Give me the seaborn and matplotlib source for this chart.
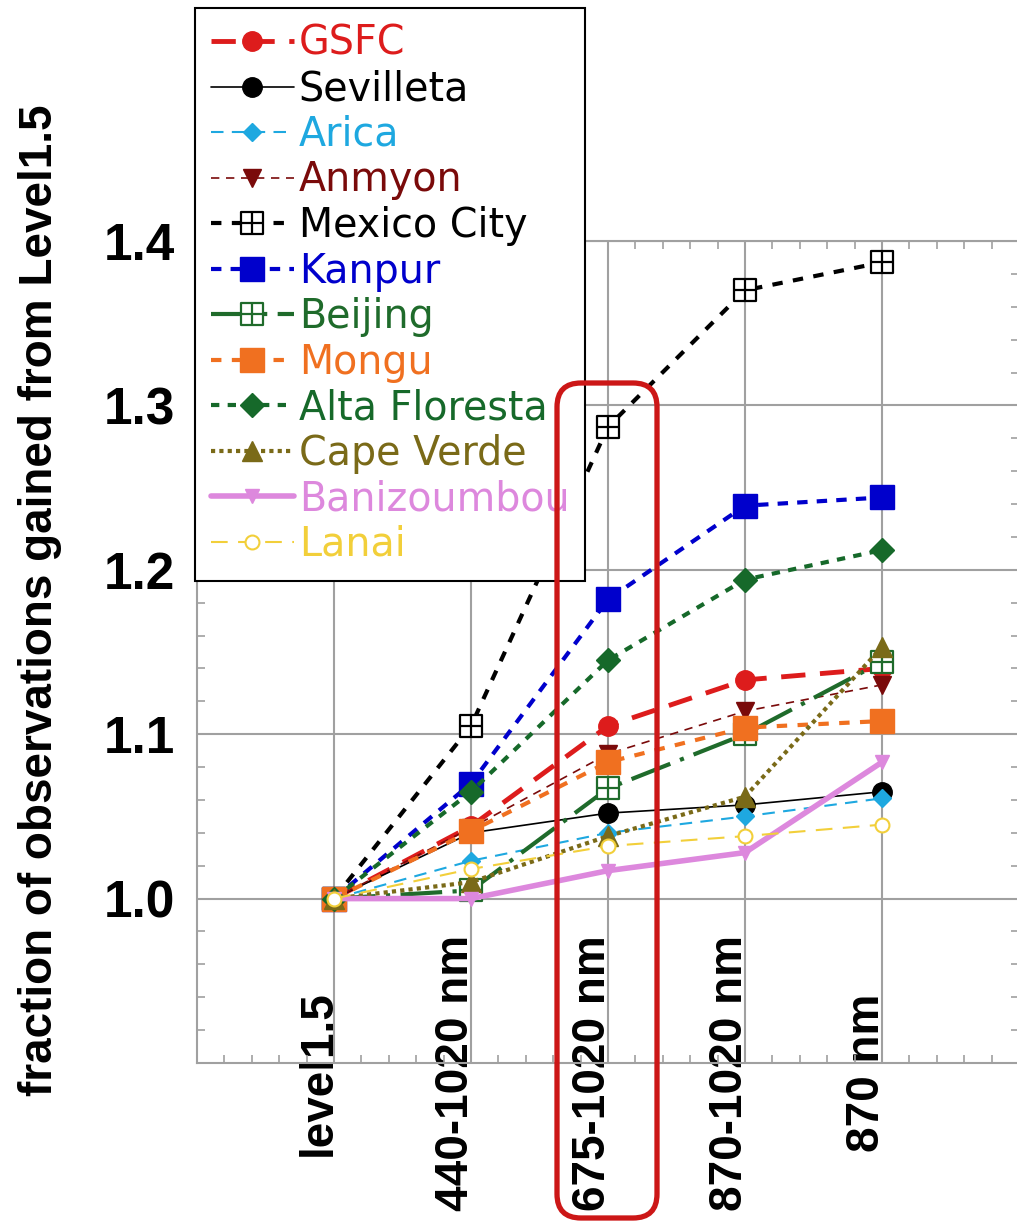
import numpy as np
import pandas as pd
import matplotlib
matplotlib.use("Agg")
import matplotlib.pyplot as plt
import seaborn as sns
from matplotlib.path import Path
from matplotlib.patches import FancyBboxPatch
import matplotlib.transforms as mtransforms
from matplotlib.ticker import MultipleLocator, FixedLocator

# ---------------- data ----------------
categories = ["level1.5", "440-1020 nm", "675-1020 nm", "870-1020 nm", "870 nm"]
site_names = ["GSFC", "Sevilleta", "Arica", "Anmyon", "Mexico City", "Kanpur",
              "Beijing", "Mongu", "Alta Floresta", "Cape Verde", "Banizoumbou", "Lanai"]
gsfc          = [1.0, 1.044, 1.105, 1.133, 1.140]
sevilleta     = [1.0, 1.040, 1.052, 1.057, 1.065]
arica         = [1.0, 1.023, 1.040, 1.050, 1.061]
anmyon        = [1.0, 1.043, 1.088, 1.114, 1.130]
mexico_city   = [1.0, 1.105, 1.287, 1.370, 1.387]
kanpur        = [1.0, 1.070, 1.182, 1.239, 1.244]
beijing       = [1.0, 1.005, 1.067, 1.100, 1.144]
mongu         = [1.0, 1.041, 1.083, 1.104, 1.108]
alta_floresta = [1.0, 1.065, 1.145, 1.194, 1.212]
cape_verde    = [1.0, 1.010, 1.038, 1.062, 1.153]
banizoumbou   = [1.0, 1.000, 1.017, 1.028, 1.083]
lanai         = [1.0, 1.018, 1.032, 1.038, 1.045]
yticks = [1.0, 1.1, 1.2, 1.3, 1.4]
ylabel = "fraction of observations gained from Level1.5"

series = [gsfc, sevilleta, arica, anmyon, mexico_city, kanpur,
          beijing, mongu, alta_floresta, cape_verde, banizoumbou, lanai]
frames = []
for nm, vals in zip(site_names, series):
    frames.append(pd.DataFrame({"site": nm, "pos": np.arange(len(categories)), "value": vals}))
df = pd.concat(frames, ignore_index=True)

# ---------------- styles ----------------
sq_plus = Path([(-1, -1), (1, -1), (1, 1), (-1, 1), (-1, -1),
                (-1, 0), (1, 0), (0, -1), (0, 1)],
               [Path.MOVETO, Path.LINETO, Path.LINETO, Path.LINETO, Path.CLOSEPOLY,
                Path.MOVETO, Path.LINETO, Path.MOVETO, Path.LINETO])

styles = {
    "GSFC":          dict(color="#dd1c1c", lw=3.5, ls=(0, (5, 3)),   marker="o", ms=14, mfc="#dd1c1c", mew=1),
    "Sevilleta":     dict(color="#000000", lw=1.2, ls="-",           marker="o", ms=14, mfc="#000000", mew=1),
    "Arica":         dict(color="#1ea8e0", lw=1.5, ls=(0, (6, 4)),   marker="D", ms=9,  mfc="#1ea8e0", mew=1),
    "Anmyon":        dict(color="#7a0a0a", lw=1.2, ls=(0, (5, 4)),   marker="v", ms=13, mfc="#7a0a0a", mew=1),
    "Mexico City":   dict(color="#000000", lw=3.0, ls=(0, (2.5, 2.5)), marker=sq_plus, ms=16, mfc="white", mew=1.6),
    "Kanpur":        dict(color="#0000cc", lw=3.0, ls=(0, (2.5, 2.2)), marker="s", ms=17, mfc="#0000cc", mew=1),
    "Beijing":       dict(color="#1f6b2b", lw=3.0, ls=(0, (10, 2.5, 1, 2.5)), marker=sq_plus, ms=16, mfc="white", mew=1.6),
    "Mongu":         dict(color="#f07020", lw=3.0, ls=(0, (2.5, 2.5)), marker="s", ms=17, mfc="#f07020", mew=1),
    "Alta Floresta": dict(color="#16692a", lw=3.0, ls=(0, (2, 2)),   marker="D", ms=12, mfc="#16692a", mew=1),
    "Cape Verde":    dict(color="#7a6a18", lw=3.0, ls=(0, (1, 1)),   marker="^", ms=14, mfc="#7a6a18", mew=1),
    "Banizoumbou":   dict(color="#dd88dd", lw=4.0, ls="-",           marker="v", ms=10, mfc="#dd88dd", mew=1),
    "Lanai":         dict(color="#f2cf3a", lw=1.5, ls=(0, (8, 5)),   marker="o", ms=10, mfc="white", mew=1.5),
}

# ---------------- figure ----------------
sns.set_style("white")
plt.rcParams["font.family"] = ["Liberation Sans", "DejaVu Sans"]
plt.rcParams["font.weight"] = "bold"
plt.rcParams["text.color"] = "black"
plt.rcParams["axes.labelcolor"] = "black"

W, H = 1017, 1222
fig = plt.figure(figsize=(W / 100, H / 100), dpi=100)
ax = fig.add_axes([197 / W, 1 - 1063 / H, (1019 - 197) / W, (1063 - 241) / H])

handles = []
for nm in site_names:
    st = styles[nm]
    sub = df[df["site"] == nm]
    sns.lineplot(data=sub, x="pos", y="value", ax=ax, color=st["color"],
                 linewidth=st["lw"], linestyle=st["ls"], marker=st["marker"],
                 markersize=st["ms"], markerfacecolor=st["mfc"],
                 markeredgecolor=st["color"], markeredgewidth=st["mew"],
                 errorbar=None, legend=False, sort=False)
    ln = ax.lines[-1]
    ln.set_dash_capstyle("butt")
    handles.append(ln)

ax.set_xlim(-1, 5)
ax.set_ylim(0.9, 1.4)
ax.xaxis.set_major_locator(FixedLocator(np.arange(len(categories))))
ax.set_xticklabels(categories)
ax.set_yticks(yticks)
ax.set_yticklabels([f"{v:.1f}" for v in yticks])
ax.xaxis.set_minor_locator(MultipleLocator(0.2))
ax.yaxis.set_minor_locator(MultipleLocator(0.02))

grid_c = "#a0a0a0"
ax.grid(True, which="major", color=grid_c, linewidth=1.5)
ax.set_axisbelow(True)
for sp in ax.spines.values():
    sp.set_visible(True)
    sp.set_color(grid_c)
    sp.set_linewidth(1.5)

ax.tick_params(which="major", length=0, labelcolor="black")
ax.tick_params(axis="y", which="major", labelsize=37, pad=16)
ax.tick_params(axis="x", which="major", labelsize=33, pad=7)
ax.tick_params(which="minor", direction="in", length=6, width=1.2, color=grid_c,
               top=True, right=True, bottom=True, left=True)

offset = mtransforms.ScaledTranslation(7 / 100, 0, fig.dpi_scale_trans)
for lab in ax.get_xticklabels():
    lab.set_rotation(90)
    lab.set_ha("right")
    lab.set_va("center")
    lab.set_fontweight("bold")
    lab.set_color("black")
    lab.set_transform(lab.get_transform() + offset)
for lab in ax.get_yticklabels():
    lab.set_fontweight("bold")
    lab.set_color("black")

ax.set_xlabel("")
ax.set_ylabel(ylabel, fontsize=33, fontweight="bold", color="black")
ax.yaxis.label.set_va("center")
ax.yaxis.set_label_coords((40 - 197) / (1019 - 197), (1063 - 600) / (1063 - 241))

leg = ax.legend(handles, site_names, loc="upper left",
                bbox_to_anchor=(195 / W, 1 - 8 / H), bbox_transform=fig.transFigure,
                borderaxespad=0, frameon=True, fancybox=False, framealpha=1,
                edgecolor="black", handlelength=2.1, handletextpad=0.12,
                labelspacing=0.14, borderpad=0.4, numpoints=1,
                prop={"family": "DejaVu Sans", "size": 28.5, "weight": "normal"})
leg.get_frame().set_linewidth(1.5)
leg.set_zorder(10)
for txt, nm in zip(leg.get_texts(), site_names):
    txt.set_color(styles[nm]["color"])

# red highlight box around the 675-1020 nm column
box = FancyBboxPatch((557, H - 1218), 100, 1218 - 383,
                     boxstyle="round,pad=0,rounding_size=24",
                     transform=mtransforms.IdentityTransform(),
                     fill=False, edgecolor="#cc1717", linewidth=3.8, zorder=20)
fig.add_artist(box)

fig.savefig("out.png", dpi=100)
